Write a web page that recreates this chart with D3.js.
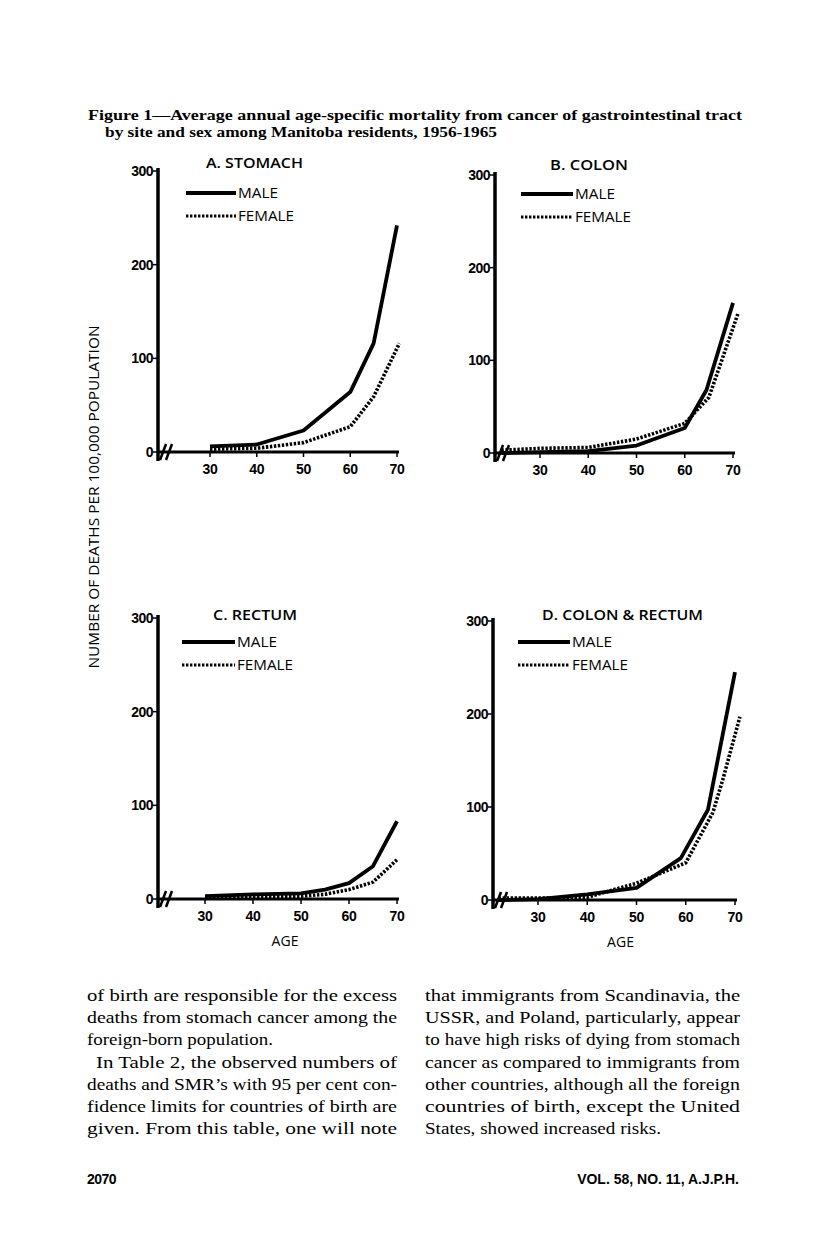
<!DOCTYPE html>
<html>
<head>
<meta charset="utf-8">
<script src="https://cdn.jsdelivr.net/npm/d3@7"></script>
<style>
  body { margin: 0; background: #fff; }
  svg { display: block; }
</style>
</head>
<body>
<div id="chart"></div>
<script>
// values (deaths per 100,000)
const stomachMaleAges = [30, 40, 50, 60, 65, 70];
const stomachMale = [6, 8, 23, 64, 116, 242];
const stomachFemaleAges = [30, 40, 50, 60, 65, 70.5];
const stomachFemale = [3, 4, 10, 27, 59, 116];

const colonMaleAges = [22, 30, 40, 50, 60, 64.5, 70];
const colonMale = [0, 1, 2, 8, 27, 68, 162];
const colonFemaleAges = [22, 30, 40, 50, 60, 65, 71];
const colonFemale = [3, 5, 6, 15, 32, 60, 150];

const rectumMaleAges = [30, 40, 50, 55, 60, 65, 70];
const rectumMale = [3, 5, 6, 10, 17, 35, 83];
const rectumFemaleAges = [30, 40, 50, 55, 60, 65, 70];
const rectumFemale = [2, 2, 3, 5, 10, 18, 42];

const crMaleAges = [22, 30, 40, 50, 59, 64.5, 70];
const crMale = [0, 1, 6, 13, 45, 97, 245];
const crFemaleAges = [22, 30, 40, 50, 60, 65.5, 67.5, 71];
const crFemale = [2, 2, 3, 18, 40, 94, 129, 197];

const panelTitles = ["A. STOMACH", "B. COLON", "C. RECTUM", "D. COLON & RECTUM"];
const yTicks = [0, 100, 200, 300];
const xTicks = [30, 40, 50, 60, 70];

const titleLines = [
  "Figure 1\u2014Average annual age-specific mortality from cancer of gastrointestinal tract",
  "by site and sex among Manitoba residents, 1956-1965"
];
const leftColumn = [
  "of birth are responsible for the excess",
  "deaths from stomach cancer among the",
  "foreign-born population.",
  "In Table 2, the observed numbers of",
  "deaths and SMR\u2019s with 95 per cent con-",
  "fidence limits for countries of birth are",
  "given. From this table, one will note"
];
const rightColumn = [
  "that immigrants from Scandinavia, the",
  "USSR, and Poland, particularly, appear",
  "to have high risks of dying from stomach",
  "cancer as compared to immigrants from",
  "other countries, although all the foreign",
  "countries of birth, except the United",
  "States, showed increased risks."
];

const W = 816, H = 1236;
const svg = d3.select("#chart").append("svg")
    .attr("width", W)
    .attr("height", H);

const sans = "'Open Sans', 'DejaVu Sans', sans-serif";
const serif = "'Liberation Serif', 'DejaVu Serif', serif";
const numFont = "'Liberation Sans', 'DejaVu Sans', sans-serif";

// page caption
svg.append("text")
    .attr("x", 88).attr("y", 120)
    .attr("font-family", serif).attr("font-weight", "bold").attr("font-size", 15.5)
    .attr("textLength", 654).attr("lengthAdjust", "spacingAndGlyphs")
    .text(titleLines[0]);
svg.append("text")
    .attr("x", 105).attr("y", 137)
    .attr("font-family", serif).attr("font-weight", "bold").attr("font-size", 15.5)
    .attr("textLength", 392).attr("lengthAdjust", "spacingAndGlyphs")
    .text(titleLines[1]);

// shared y label
svg.append("text")
    .attr("transform", "translate(99,497) rotate(-90)")
    .attr("text-anchor", "middle")
    .attr("font-family", sans).attr("font-weight", 500).attr("font-size", 14)
    .attr("textLength", 343).attr("lengthAdjust", "spacingAndGlyphs")
    .text("NUMBER OF DEATHS PER 100,000 POPULATION");

const panels = [
  { title: panelTitles[0], titleLen: 97, axisX: 158, y0: 452, y300: 171, x30: 210, x70: 397,
    male: [stomachMaleAges, stomachMale], female: [stomachFemaleAges, stomachFemale],
    titleX: 206, titleY: 168, legX: 186, legY: 193, legLen: 50, age: false },
  { title: panelTitles[1], titleLen: 78, axisX: 495, y0: 453, y300: 175, x30: 540, x70: 733,
    male: [colonMaleAges, colonMale], female: [colonFemaleAges, colonFemale],
    titleX: 550, titleY: 170, legX: 521, legY: 194, legLen: 52, age: false },
  { title: panelTitles[2], titleLen: 84, axisX: 158, y0: 899, y300: 618, x30: 205, x70: 397,
    male: [rectumMaleAges, rectumMale], female: [rectumFemaleAges, rectumFemale],
    titleX: 213, titleY: 620, legX: 182, legY: 642, legLen: 53, age: true },
  { title: panelTitles[3], titleLen: 161, axisX: 493, y0: 900, y300: 621, x30: 538, x70: 735,
    male: [crMaleAges, crMale], female: [crFemaleAges, crFemale],
    titleX: 542, titleY: 620, legX: 518, legY: 642, legLen: 52, age: true }
];

panels.forEach(p => {
    const g = svg.append("g");
    const x = d3.scaleLinear().domain([30, 70]).range([p.x30, p.x70]);
    const y = d3.scaleLinear().domain([0, 300]).range([p.y0, p.y300]);

    // axes
    g.append("line")
        .attr("x1", p.axisX).attr("x2", p.axisX)
        .attr("y1", p.y0 + 9).attr("y2", y(300) - 3)
        .attr("stroke", "#000").attr("stroke-width", 3.5);
    g.append("line")
        .attr("x1", p.axisX).attr("x2", x(70) + 2)
        .attr("y1", p.y0).attr("y2", p.y0)
        .attr("stroke", "#000").attr("stroke-width", 3);

    // axis break marks
    [5, 11].forEach(dx => {
        g.append("line")
            .attr("x1", p.axisX + dx - 3).attr("x2", p.axisX + dx + 3)
            .attr("y1", p.y0 + 8).attr("y2", p.y0 - 8)
            .attr("stroke", "#000").attr("stroke-width", 2.5);
    });

    yTicks.forEach(t => {
        g.append("line")
            .attr("x1", p.axisX - 5).attr("x2", p.axisX)
            .attr("y1", y(t)).attr("y2", y(t))
            .attr("stroke", "#000").attr("stroke-width", 1.5);
        g.append("text")
            .attr("x", p.axisX - 5).attr("y", y(t) + 5)
            .attr("text-anchor", "end")
            .attr("font-family", numFont).attr("font-weight", "bold")
            .attr("font-size", 14).attr("letter-spacing", -0.5)
            .text(t);
    });

    xTicks.forEach(t => {
        g.append("line")
            .attr("x1", x(t)).attr("x2", x(t))
            .attr("y1", p.y0).attr("y2", p.y0 + 5)
            .attr("stroke", "#000").attr("stroke-width", 1.5);
        g.append("text")
            .attr("x", x(t)).attr("y", p.y0 + 22)
            .attr("text-anchor", "middle")
            .attr("font-family", numFont).attr("font-weight", "bold")
            .attr("font-size", 14).attr("letter-spacing", -0.4)
            .text(t);
    });

    if (p.age) {
        g.append("text")
            .attr("x", (x(30) + x(70)) / 2 - 16).attr("y", p.y0 + 47)
            .attr("text-anchor", "middle")
            .attr("font-family", sans).attr("font-weight", 500).attr("font-size", 14)
            .text("AGE");
    }

    // title and legend
    g.append("text")
        .attr("x", p.titleX).attr("y", p.titleY)
        .attr("font-family", sans).attr("font-weight", 600).attr("font-size", 14)
        .attr("textLength", p.titleLen).attr("lengthAdjust", "spacingAndGlyphs")
        .text(p.title);

    const line = d3.line()
        .x(d => x(d[0]))
        .y(d => y(d[1]));

    const series = [
        { name: "MALE", len: 40, data: d3.zip(p.male[0], p.male[1]), dash: null, dy: 0 },
        { name: "FEMALE", len: 56, data: d3.zip(p.female[0], p.female[1]), dash: "2.4,1.6", dy: 23 }
    ];

    series.forEach(s => {
        g.append("path")
            .datum(s.data)
            .attr("fill", "none")
            .attr("stroke", "#000")
            .attr("stroke-width", s.dash ? 3.6 : 3.8)
            .attr("stroke-dasharray", s.dash)
            .attr("stroke-linejoin", "round")
            .attr("d", line);

        g.append("line")
            .attr("x1", p.legX).attr("x2", p.legX + p.legLen)
            .attr("y1", p.legY + s.dy).attr("y2", p.legY + s.dy)
            .attr("stroke", "#000").attr("stroke-width", s.dash ? 3 : 3.8)
            .attr("stroke-dasharray", s.dash);
        g.append("text")
            .attr("x", p.legX + p.legLen + 2).attr("y", p.legY + s.dy + 5)
            .attr("font-family", sans).attr("font-weight", 500).attr("font-size", 14)
            .attr("textLength", s.len).attr("lengthAdjust", "spacingAndGlyphs")
            .text(s.name);
    });
});

// body text in two justified columns; ragged lines get their measured widths
function column(lines, x0, width, top, indents, ragged) {
    lines.forEach((txt, i) => {
        const ind = indents.includes(i) ? 9 : 0;
        const len = ragged[i] !== undefined ? ragged[i] : width - ind;
        svg.append("text")
            .attr("x", x0 + ind).attr("y", top + i * 22.2)
            .attr("font-family", serif).attr("font-size", 17.5)
            .attr("textLength", len).attr("lengthAdjust", "spacingAndGlyphs")
            .text(txt);
    });
}
column(leftColumn, 87, 310, 1001, [3], { 2: 186 });
column(rightColumn, 425, 315, 1001, [], { 6: 236 });

svg.append("text")
    .attr("x", 87).attr("y", 1184)
    .attr("font-family", numFont).attr("font-weight", "bold")
    .attr("font-size", 14).attr("letter-spacing", -0.5)
    .text("2070");
svg.append("text")
    .attr("x", 739).attr("y", 1184)
    .attr("text-anchor", "end")
    .attr("font-family", numFont).attr("font-weight", "bold")
    .attr("font-size", 14)
    .text("VOL. 58, NO. 11, A.J.P.H.");
</script>
</body>
</html>
